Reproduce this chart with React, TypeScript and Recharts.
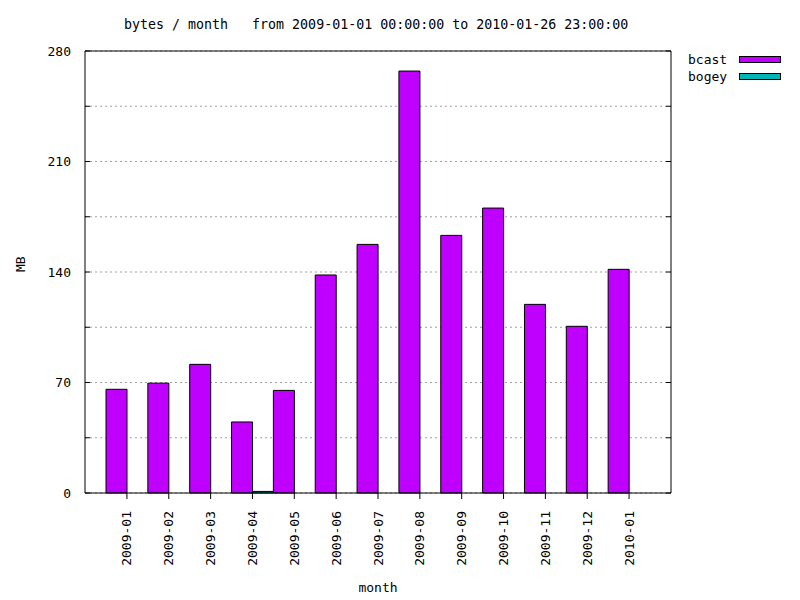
import React from "react";
import {
  Bar,
  BarChart,
  CartesianGrid,
  Legend,
  Line,
  XAxis,
  YAxis,
} from "recharts";

const months = [
  "2009-01", "2009-02", "2009-03", "2009-04", "2009-05", "2009-06", "2009-07",
  "2009-08", "2009-09", "2009-10", "2009-11", "2009-12", "2010-01",
];
const bcast = [65.7, 69.6, 81.5, 45, 65, 138.1, 157.5, 267.3, 163.2, 180.5, 119.5, 105.6, 141.7];
const bogey = [0, 0, 0, 1, 0, 0, 0, 0, 0, 0, 0, 0, 0];
const yTicks = [0, 35, 70, 105, 140, 175, 210, 245, 280];
const yLabels = [0, 70, 140, 210, 280];

const mono = "'DejaVu Sans Mono', 'Liberation Mono', monospace";
const txt = { fontSize: 13, fill: "#000", fontFamily: mono };

const data = months.map((m, i) => ({ month: m, bcast: bcast[i], bogey: bogey[i] }));

// left ticks: text outside, short tick mark inward from the axis line
function LeftTick(props: any) {
  const { x, y, payload } = props;
  const ax = x + 14;
  return (
    <g>
      <line x1={ax} x2={ax + 5} y1={y} y2={y} stroke="#000" />
      {yLabels.includes(payload.value) && (
        <text x={x} y={y} dy="0.35em" textAnchor="end" {...txt}>
          {payload.value}
        </text>
      )}
    </g>
  );
}

// right border mirror ticks, drawn inward
function RightTick(props: any) {
  const { x, y } = props;
  return <line x1={x - 5} x2={x} y1={y} y2={y} stroke="#000" />;
}

function MonthTick(props: any) {
  const { x, y, payload } = props;
  return (
    <text
      x={x}
      y={y}
      dy="0.35em"
      textAnchor="end"
      transform={`rotate(-90 ${x} ${y})`}
      {...txt}
    >
      {payload.value}
    </text>
  );
}

function KeyBox(props: any) {
  const items = (props.payload || []).filter((it: any) => it.type !== "none");
  return (
    <div style={{ fontFamily: mono, fontSize: 13 }}>
      {items.map((it: any) => (
        <div key={it.value} style={{ display: "flex", alignItems: "center", height: 17 }}>
          <span style={{ width: 51 }}>{it.value}</span>
          <span
            style={{
              width: 40,
              height: 5,
              background: it.color,
              border: "1px solid #000",
            }}
          />
        </div>
      ))}
    </div>
  );
}

export default function App() {
  return (
    <div style={{ position: "absolute", left: 0, top: 0, width: 800, height: 600, background: "#fff" }}>
      <div
        style={{
          position: "absolute",
          left: 124,
          top: 17,
          fontFamily: mono,
          fontSize: 13.3,
          whiteSpace: "pre",
          lineHeight: "16px",
        }}
      >
        {"bytes / month   from 2009-01-01 00:00:00 to 2010-01-26 23:00:00"}
      </div>
      <BarChart
        width={800}
        height={600}
        data={data}
        margin={{ top: 50, right: 128, bottom: 0, left: 25 }}
        barCategoryGap={0}
        barGap={0}
      >
        <CartesianGrid vertical={false} stroke="#a0a0a0" strokeDasharray="2 3" />
        <XAxis
          dataKey="month"
          height={107}
          interval={0}
          padding={{ left: 21, right: 21 }}
          axisLine={{ stroke: "#000" }}
          tickLine={{ stroke: "#000" }}
          tickSize={6}
          tickMargin={12}
          tick={<MonthTick />}
          label={{ value: "month", position: "insideBottom", offset: 8, ...txt }}
        />
        <XAxis
          xAxisId="top"
          dataKey="month"
          orientation="top"
          height={1}
          tick={false}
          tickLine={false}
          axisLine={{ stroke: "#000" }}
          padding={{ left: 21, right: 21 }}
        />
        <YAxis
          width={60}
          domain={[0, 280]}
          ticks={yTicks}
          interval={0}
          tickSize={0}
          tickMargin={14}
          tickLine={false}
          axisLine={{ stroke: "#000" }}
          tick={<LeftTick />}
          label={{ value: "MB", angle: -90, position: "insideLeft", offset: -5, ...txt }}
        />
        <YAxis
          yAxisId="right"
          orientation="right"
          width={1}
          domain={[0, 280]}
          ticks={yTicks}
          interval={0}
          tickSize={0}
          tickMargin={0}
          tickLine={false}
          axisLine={{ stroke: "#000" }}
          tick={<RightTick />}
        />
        <Legend
          content={<KeyBox />}
          layout="vertical"
          verticalAlign="middle"
          align="center"
          wrapperStyle={{ position: "absolute", left: 688, top: 51, width: 110 }}
        />
        <Bar dataKey="bcast" fill="#c000ff" stroke="#000" strokeWidth={1} isAnimationActive={false} />
        <Bar dataKey="bogey" fill="#00b4b4" stroke="#000" strokeWidth={1} isAnimationActive={false} />
        {/* invisible series so the mirrored frame axes get drawn */}
        <Line
          xAxisId="top"
          yAxisId="right"
          dataKey="bcast"
          stroke="none"
          dot={false}
          activeDot={false}
          legendType="none"
          isAnimationActive={false}
        />
      </BarChart>
    </div>
  );
}
